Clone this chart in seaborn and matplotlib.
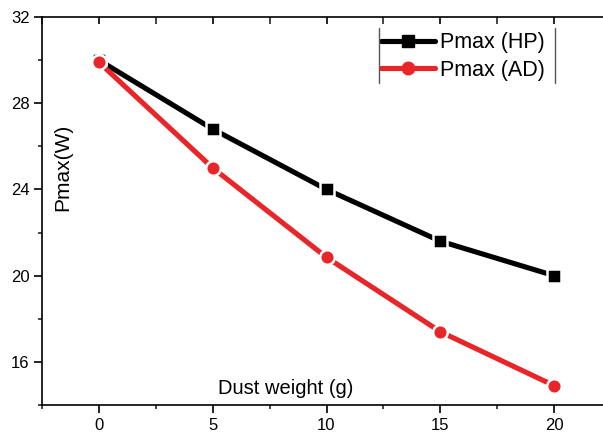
import matplotlib
matplotlib.use("Agg")
import matplotlib.pyplot as plt
import seaborn as sns
import pandas as pd
from matplotlib.lines import Line2D

# Maximum power versus accumulated dust weight
dust_weight = [0, 5, 10, 15, 20]
pmax_hp = [30.0, 26.8, 24.0, 21.6, 20.0]
pmax_ad = [29.9, 25.0, 20.85, 17.4, 14.9]
series_names = ["Pmax (HP)", "Pmax (AD)"]
series_colors = ["#000000", "#e8262a"]
series_markers = ["s", "o"]

df = pd.concat([
    pd.DataFrame({"x": dust_weight, "y": pmax_hp, "series": series_names[0]}),
    pd.DataFrame({"x": dust_weight, "y": pmax_ad, "series": series_names[1]}),
])

sns.set_style("ticks")
plt.rcParams["font.family"] = ["Liberation Sans", "DejaVu Sans"]
plt.rcParams["text.color"] = "black"

fig = plt.figure(figsize=(6.03, 4.34), dpi=100)
W, H = 603, 434
ax = fig.add_axes([42 / W, 1 - 405 / H, (611 - 42) / W, (405 - 17) / H])

for name, color, mk, ms in zip(series_names, series_colors, series_markers, [9.5, 10.5]):
    sub = df[df["series"] == name]
    sns.lineplot(data=sub, x="x", y="y", ax=ax, color=color, lw=3.7,
                 marker=mk, markersize=ms, markeredgecolor="white",
                 markeredgewidth=1.8, legend=False, zorder=3 if mk == "s" else 4)

ax.set_xlim(-2.5, 22.5)
ax.set_ylim(14, 32)
ax.set_xticks([0, 5, 10, 15, 20])
ax.set_xticks([-2.5, 2.5, 7.5, 12.5, 17.5, 22.5], minor=True)
ax.set_yticks([16, 20, 24, 28, 32])
ax.set_yticks([14, 18, 22, 26, 30], minor=True)
ax.set_xlabel("")
ax.set_ylabel("")

for s in ["left", "bottom", "top"]:
    ax.spines[s].set_linewidth(1.2)
    ax.spines[s].set_color("black")
ax.spines["right"].set_visible(False)

ax.tick_params(axis="both", which="major", direction="out", length=6, width=1.2,
               labelsize=12, colors="black", pad=3)
ax.tick_params(axis="both", which="minor", direction="out", length=3, width=1.2)
ax.tick_params(axis="x", which="both", top=True)

# Top spine ticks point inward
for t in ax.xaxis.get_major_ticks() + ax.xaxis.get_minor_ticks():
    t.tick2line.set_marker(matplotlib.markers.TICKDOWN)
    t.tick2line.set_markersize(5)

# Axis titles placed inside the frame
fig.text(63 / W, 1 - 167 / H, "Pmax(W)", rotation=90, ha="center", va="center",
         fontsize=15, color="black")
fig.text(286 / W, 1 - 389 / H, "Dust weight (g)", ha="center", va="center",
         fontsize=14.5, color="black")

handles = [
    Line2D([], [], color=c, lw=3.7, marker=m, markersize=ms, markeredgecolor=c)
    for c, m, ms in zip(series_colors, series_markers, [8, 9])
]
leg = ax.legend(handles, series_names, loc="center left",
                bbox_to_anchor=(381 / W, 1 - 56.5 / H), bbox_transform=fig.transFigure,
                frameon=False, fontsize=15.5, handlelength=2.5, handletextpad=0.23,
                labelspacing=0.32, borderaxespad=0, borderpad=0)
for txt in leg.get_texts():
    txt.set_color("black")

# Vertical rules framing the legend
for xp in (379, 555):
    fig.add_artist(Line2D([xp / W, xp / W], [1 - 28 / H, 1 - 83 / H],
                          color="#555555", lw=1.0, transform=fig.transFigure))

fig.savefig("out.png", dpi=100)
